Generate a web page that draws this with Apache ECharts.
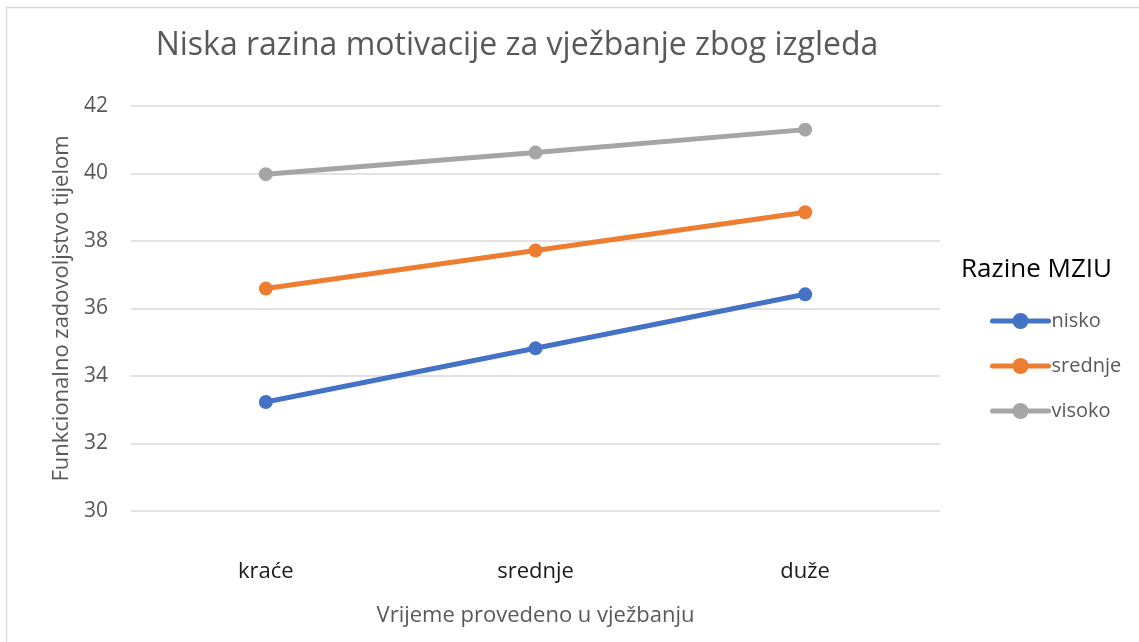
<!DOCTYPE html>
<html>
<head>
<meta charset="utf-8">
<script src="https://cdn.jsdelivr.net/npm/echarts@6/dist/echarts.min.js"></script>
<style>
  html, body { margin: 0; padding: 0; background: #fff; }
  #chart { width: 1139px; height: 642px; }
</style>
</head>
<body>
<div id="chart"></div>
<script>
var categories = ['kraće', 'srednje', 'duže']
var nisko = [33.23, 34.82, 36.42]
var srednje = [36.59, 37.72, 38.85]
var visoko = [39.98, 40.62, 41.30]
var yTicks = { min: 30, max: 42, interval: 2 }

var font = '"Open Sans", "Noto Sans", sans-serif'
var chart = echarts.init(document.getElementById('chart'))

function line(name, data, color) {
    return {
        name: name,
        type: 'line',
        data: data,
        symbol: 'circle',
        symbolSize: 14,
        lineStyle: { color: color, width: 5 },
        itemStyle: { color: color },
        emphasis: { disabled: true }
    }
}

var option = {
    animation: false,
    graphic: [{
        type: 'rect',
        shape: { x: 6.5, y: 7.5, width: 1140, height: 640 },
        style: { fill: 'none', stroke: '#d9d9d9', lineWidth: 1.5 },
        silent: true
    }],
    title: [{
        text: 'Niska razina motivacije za vježbanje zbog izgleda',
        left: 512, top: 25, textAlign: 'center',
        textStyle: { fontFamily: font, fontSize: 32, fontWeight: 'normal', color: '#595959' }
    }, {
        text: 'Razine MZIU',
        left: 956, top: 252,
        textStyle: { fontFamily: font, fontSize: 26, fontWeight: 'normal', color: '#000' }
    }],
    legend: {
        orient: 'vertical',
        left: 985, top: 306,
        itemWidth: 56, itemHeight: 20,
        itemGap: 25,
        lineStyle: { width: 5, cap: 'round' },
        textStyle: { fontFamily: font, fontSize: 20, color: '#595959', padding: [0, 0, 0, -2] },
        data: ['nisko', 'srednje', 'visoko']
    },
    grid: { left: 131, right: 199, top: 106, bottom: 131 },
    xAxis: {
        type: 'category',
        data: categories,
        name: 'Vrijeme provedeno u vježbanju',
        nameLocation: 'middle',
        nameGap: 94,
        nameTextStyle: { fontFamily: font, fontSize: 22, color: '#595959' },
        axisLine: { show: false },
        axisTick: { show: false },
        axisLabel: { margin: 50, fontFamily: font, fontSize: 22, color: '#1a1a1a' }
    },
    yAxis: {
        type: 'value',
        min: yTicks.min, max: yTicks.max, interval: yTicks.interval,
        name: 'Funkcionalno zadovoljstvo tijelom',
        nameLocation: 'middle',
        nameGap: 57,
        nameTextStyle: { fontFamily: font, fontSize: 22, color: '#595959' },
        axisLabel: { margin: 23, fontFamily: font, fontSize: 21, color: '#595959' },
        splitLine: { lineStyle: { color: '#d9d9d9', width: 1.5 } }
    },
    series: [
        line('nisko', nisko, '#4472C4'),
        line('srednje', srednje, '#ED7D31'),
        line('visoko', visoko, '#A5A5A5')
    ]
}

chart.setOption(option)
</script>
</body>
</html>
